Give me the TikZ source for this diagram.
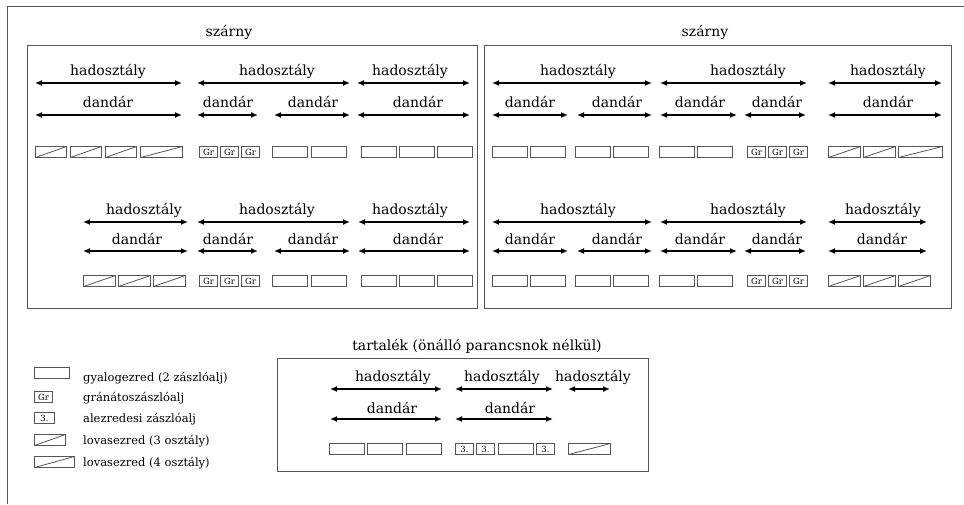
\documentclass[tikz,border=0pt]{standalone}
\usepackage{fontspec}
\setmainfont{DejaVu Serif}
\usetikzlibrary{arrows.meta}
\definecolor{boxc}{HTML}{555555}
\tikzset{
  sarrow/.style={line width=1.5pt, {Latex[length=7pt,width=6pt]}-{Latex[length=7pt,width=6pt]}},
  lbl/.style={font=\fontsize{14}{16}\selectfont, inner sep=0pt},
  frame/.style={draw=boxc, line width=1.1pt},
  unit/.style={draw=boxc, line width=1pt, rectangle, inner sep=0pt, anchor=north west, minimum height=11pt, font=\fontsize{8.5}{9}\selectfont},
  infu/.style={unit, minimum width=35pt},
  gru/.style={unit, minimum width=18pt},
  cavu/.style={unit, path picture={\draw[line width=0.8pt] (path picture bounding box.south west) -- (path picture bounding box.north east);}},
  legt/.style={font=\fontsize{11.5}{13}\selectfont, anchor=west, inner sep=0pt}
}
\newcommand\sparr[7]{% name x1 x2 y textx texty label
  \coordinate (#1a) at (#2,#4); \coordinate (#1b) at (#3,#4);
  \draw[sarrow] (#1a) -- (#1b);
  \node[lbl] (#1t) at (#5,#6) {#7};}
\newcommand\infb[3]{\node[infu] (#1) at (#2,#3) {};}
\newcommand\grb[3]{\node[gru] (#1) at (#2,#3) {Gr};}
\newcommand\thrb[3]{\node[gru] (#1) at (#2,#3) {3.};}
\newcommand\cavb[4]{\node[cavu, minimum width=#4pt] (#1) at (#2,#3) {};}
\begin{document}
\begin{tikzpicture}[x=1pt,y=-1pt]
\useasboundingbox (0,0) rectangle (964,504);
% outer frame (partially visible)
\coordinate (ofa) at (7,504); \coordinate (ofb) at (7,6); \coordinate (ofc) at (964,6);
\draw[draw=boxc, line width=0.9pt] (ofa) -- (ofb) -- (ofc);

% wing boxes
\node[frame, rectangle, anchor=north west, minimum width=450pt, minimum height=263pt, inner sep=0pt] (lw) at (27,45) {};
\node[frame, rectangle, anchor=north west, minimum width=467pt, minimum height=263pt, inner sep=0pt] (rw) at (484,45) {};
\node[frame, rectangle, anchor=north west, minimum width=371pt, minimum height=113pt, inner sep=0pt] (res) at (277,358) {};
\node[lbl] (lwt) at (229,32) {szárny};
\node[lbl] (rwt) at (705,32) {szárny};
\node[lbl] (rest) at (477,346) {tartalék (önálló parancsnok nélkül)};

% ===== left wing row 1
\sparr{lah}{35}{182}{83}{108}{71}{hadosztály}
\sparr{lbh}{197}{350}{83}{277}{71}{hadosztály}
\sparr{lch}{357}{470}{83}{410}{71}{hadosztály}
\sparr{lad}{35}{182}{115}{108}{102}{dandár}
\sparr{lbd}{197}{258}{115}{228}{102}{dandár}
\sparr{lcd}{274}{350}{115}{313}{102}{dandár}
\sparr{ldd}{357}{470}{115}{418}{102}{dandár}
\cavb{l1c1}{35}{146}{31}\cavb{l1c2}{70}{146}{31}\cavb{l1c3}{105}{146}{31}\cavb{l1c4}{140}{146}{42}
\grb{l1g1}{199}{146}\grb{l1g2}{220}{146}\grb{l1g3}{241}{146}
\infb{l1i1}{272}{146}\infb{l1i2}{311}{146}
\infb{l1i3}{361}{146}\infb{l1i4}{399}{146}\infb{l1i5}{437}{146}

% ===== left wing row 2
\sparr{mah}{83}{188}{222}{144}{210}{hadosztály}
\sparr{mbh}{197}{350}{222}{277}{210}{hadosztály}
\sparr{mch}{358}{470}{222}{410}{210}{hadosztály}
\sparr{mad}{83}{188}{251}{137}{239}{dandár}
\sparr{mbd}{197}{258}{251}{228}{239}{dandár}
\sparr{mcd}{274}{350}{251}{313}{239}{dandár}
\sparr{mdd}{358}{470}{251}{418}{239}{dandár}
\cavb{l2c1}{83}{275}{32}\cavb{l2c2}{118}{275}{32}\cavb{l2c3}{153}{275}{32}
\grb{l2g1}{199}{275}\grb{l2g2}{220}{275}\grb{l2g3}{241}{275}
\infb{l2i1}{272}{275}\infb{l2i2}{311}{275}
\infb{l2i3}{361}{275}\infb{l2i4}{399}{275}\infb{l2i5}{437}{275}

% ===== right wing row 1
\sparr{rah}{492}{652}{83}{578}{71}{hadosztály}
\sparr{rbh}{660}{807}{83}{748}{71}{hadosztály}
\sparr{rch}{828}{942}{83}{888}{71}{hadosztály}
\sparr{rad}{492}{568}{115}{530}{102}{dandár}
\sparr{rbd}{577}{652}{115}{617}{102}{dandár}
\sparr{rcd}{660}{737}{115}{700}{102}{dandár}
\sparr{rdd}{744}{806}{115}{777}{102}{dandár}
\sparr{red}{828}{942}{115}{888}{102}{dandár}
\infb{r1i1}{492}{146}\infb{r1i2}{530}{146}\infb{r1i3}{575}{146}
\infb{r1i4}{613}{146}\infb{r1i5}{659}{146}\infb{r1i6}{697}{146}
\grb{r1g1}{747}{146}\grb{r1g2}{768}{146}\grb{r1g3}{789}{146}
\cavb{r1c1}{828}{146}{32}\cavb{r1c2}{863}{146}{32}\cavb{r1c3}{898}{146}{44}

% ===== right wing row 2
\sparr{sah}{492}{652}{222}{578}{210}{hadosztály}
\sparr{sbh}{660}{807}{222}{748}{210}{hadosztály}
\sparr{sch}{828}{927}{222}{883}{210}{hadosztály}
\sparr{sad}{492}{568}{251}{530}{239}{dandár}
\sparr{sbd}{577}{652}{251}{617}{239}{dandár}
\sparr{scd}{660}{737}{251}{700}{239}{dandár}
\sparr{sdd}{744}{806}{251}{777}{239}{dandár}
\sparr{sed}{828}{927}{251}{882}{239}{dandár}
\infb{r2i1}{492}{275}\infb{r2i2}{530}{275}\infb{r2i3}{575}{275}
\infb{r2i4}{613}{275}\infb{r2i5}{659}{275}\infb{r2i6}{697}{275}
\grb{r2g1}{747}{275}\grb{r2g2}{768}{275}\grb{r2g3}{789}{275}
\cavb{r2c1}{828}{275}{32}\cavb{r2c2}{863}{275}{32}\cavb{r2c3}{898}{275}{32}

% ===== reserve
\sparr{tah}{330}{442}{389}{393}{377}{hadosztály}
\sparr{tbh}{455}{553}{389}{502}{377}{hadosztály}
\sparr{tch}{568}{610}{389}{593}{377}{hadosztály}
\sparr{tad}{330}{442}{419}{392}{408}{dandár}
\sparr{tbd}{455}{553}{419}{510}{408}{dandár}
\infb{ti1}{329}{443}\infb{ti2}{367}{443}\infb{ti3}{406}{443}
\thrb{tt1}{455}{443}\thrb{tt2}{476}{443}
\node[unit, minimum width=35pt] (ti4) at (498,443) {};
\thrb{tt3}{536}{443}
\cavb{tc1}{568}{443}{42}

% ===== legend
\infb{lg1}{34}{367}
\grb{lg2}{34}{391}
\node[unit, minimum width=20pt] (lg3) at (34,412) {3.};
\cavb{lg4}{34}{434}{31}
\cavb{lg5}{34}{456}{40}
\node[legt] (lt1) at (83,378) {gyalogezred (2 zászlóalj)};
\node[legt] (lt2) at (83,398) {gránátoszászlóalj};
\node[legt] (lt3) at (83,419) {alezredesi zászlóalj};
\node[legt] (lt4) at (83,441) {lovasezred (3 osztály)};
\node[legt] (lt5) at (83,463) {lovasezred (4 osztály)};
\end{tikzpicture}
\end{document}
